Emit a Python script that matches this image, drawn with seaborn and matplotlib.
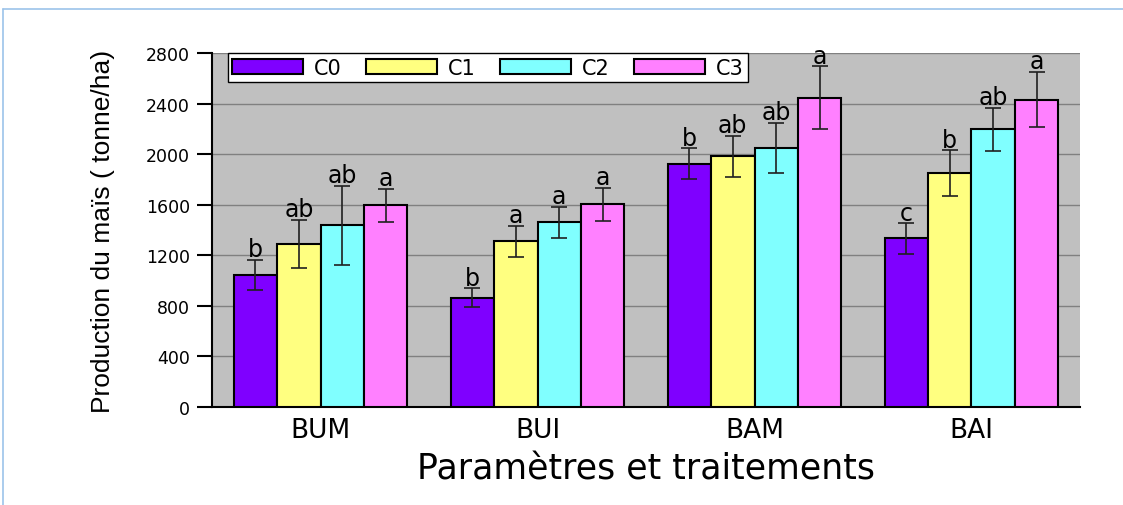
import matplotlib
matplotlib.use("Agg")
import matplotlib.pyplot as plt
import seaborn as sns
import pandas as pd
from matplotlib.lines import Line2D

# Data
parametres = ["BUM", "BUI", "BAM", "BAI"]
traitements = ["C0", "C1", "C2", "C3"]

production = {
    "C0": [1043, 863, 1924, 1333],
    "C1": [1288, 1310, 1982, 1848],
    "C2": [1436, 1460, 2048, 2196],
    "C3": [1595, 1602, 2447, 2431],
}
erreurs = {
    "C0": [121, 75, 122, 120],
    "C1": [190, 120, 160, 182],
    "C2": [312, 125, 200, 170],
    "C3": [130, 130, 247, 218],
}
lettres = {
    "C0": ["b", "b", "b", "c"],
    "C1": ["ab", "a", "ab", "b"],
    "C2": ["ab", "a", "ab", "ab"],
    "C3": ["a", "a", "a", "a"],
}
couleurs = ["#7F00FF", "#FFFF80", "#80FFFF", "#FF80FF"]

rows = []
for t in traitements:
    for p, v in zip(parametres, production[t]):
        rows.append({"Parametre": p, "Traitement": t, "Production": v})
df = pd.DataFrame(rows)

sns.set_style("white")
plt.rcParams["font.family"] = ["DejaVu Sans"]
plt.rcParams["text.color"] = "black"
plt.rcParams["axes.labelcolor"] = "black"
plt.rcParams["xtick.color"] = "black"
plt.rcParams["ytick.color"] = "black"

fig = plt.figure(figsize=(11.23, 5.06), dpi=100)
ax = fig.add_axes([0.1888, 0.1937, 0.7729, 0.6996])

sns.barplot(
    data=df, x="Parametre", y="Production", hue="Traitement",
    order=parametres, hue_order=traitements, palette=couleurs,
    errorbar=None, width=0.8, edgecolor="black", linewidth=1.5,
    saturation=1, ax=ax, zorder=3,
)

# error bars and significance letters on each bar
for i, t in enumerate(traitements):
    bars = ax.containers[i]
    for j, bar in enumerate(bars):
        xc = bar.get_x() + bar.get_width() / 2
        h = bar.get_height()
        e = erreurs[t][j]
        ax.errorbar(xc, h, yerr=e, color="#202020", capsize=6,
                    elinewidth=1.2, capthick=1.2, zorder=4)
        ax.text(xc, h + e - 10, lettres[t][j], ha="center", va="bottom",
                fontsize=17, zorder=5)

ax.set_facecolor("#C0C0C0")
ax.set_ylim(0, 2800)
ax.set_xlim(-0.5, 3.5)
ax.set_yticks(range(0, 2801, 400))
ax.yaxis.grid(True, color="#808080", linewidth=1)
ax.set_axisbelow(True)

for s in ["top", "right"]:
    ax.spines[s].set_visible(False)
for s in ["left", "bottom"]:
    ax.spines[s].set_color("black")
    ax.spines[s].set_linewidth(1.5)

ax.set_xticks(range(len(parametres)))
ax.set_xticklabels(parametres, fontsize=19)
ax.set_xticks([-0.5, 0.5, 1.5, 2.5, 3.5], minor=True)
ax.tick_params(axis="x", which="major", length=0, pad=7)
ax.tick_params(axis="x", which="minor", length=6, width=1.5, direction="out")
ax.tick_params(axis="y", length=11, width=1.5, direction="out", labelsize=12.5,
               left=True, pad=5)

ax.set_xlabel("Paramètres et traitements", fontsize=25, labelpad=6)
ax.set_ylabel("Production du maïs ( tonne/ha)", fontsize=19,
              family="Liberation Sans")
ax.yaxis.set_label_coords(-0.112, 0.5)

leg = ax.legend(loc="upper left", bbox_to_anchor=(0.018, 1.0), ncol=4,
                frameon=True, fancybox=False, edgecolor="black",
                fontsize=15, handlelength=3.4, handleheight=0.7,
                columnspacing=1.2, handletextpad=0.5, borderpad=0.22,
                borderaxespad=0)
leg.get_frame().set_linewidth(1)
leg.get_frame().set_facecolor("white")
leg.get_frame().set_alpha(1)

# light blue frame around the figure
fig.add_artist(Line2D([0.0027, 1.0], [0.980, 0.980], color="#9CC3EA", lw=1.2))
fig.add_artist(Line2D([0.0027, 0.0027], [0.0, 0.980], color="#9CC3EA", lw=1.2))

fig.savefig("out.png", dpi=100)
